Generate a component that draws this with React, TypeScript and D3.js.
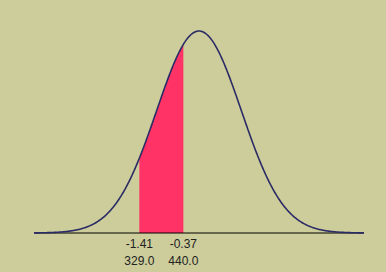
import React from "react";
import * as d3 from "d3";

const zBounds = [-1.41, -0.37];
const rawBounds = ["329.0", "440.0"];
const zDomain = [-3.9, 3.9];
const curveDomain = [-3.9, 3.9];

const W = 386;
const H = 272;

function pdf(z: number) {
  return Math.exp(-0.5 * z * z) / Math.sqrt(2 * Math.PI);
}

export default function App() {
  const x = d3.scaleLinear().domain(zDomain).range([34, 364]);
  const y = d3.scaleLinear().domain([0, pdf(0)]).range([233, 31]);

  const pts = d3.range(curveDomain[0], curveDomain[1] + 0.001, 0.02).map((z) => [z, pdf(z)] as [number, number]);
  const line = d3
    .line<[number, number]>()
    .x((d) => x(d[0]))
    .y((d) => y(d[1]))
    .curve(d3.curveLinear);

  const shadePts = d3
    .range(zBounds[0], zBounds[1] + 0.0001, 0.01)
    .map((z) => [z, pdf(z)] as [number, number]);
  shadePts.push([zBounds[1], pdf(zBounds[1])]);
  const area = d3
    .area<[number, number]>()
    .x((d) => x(d[0]))
    .y0(y(0))
    .y1((d) => y(d[1]));

  return (
    <>
      <style>{`body{margin:0}`}</style>
      <svg width={W} height={H} style={{ display: "block" }}>
        <rect x={0} y={0} width={W} height={H} fill="#CDCD9B" />
        <path d={area(shadePts) || ""} fill="#FF3366" />
        <line x1={x(zDomain[0])} x2={x(zDomain[1])} y1={y(0)} y2={y(0)} stroke="#000" strokeWidth={1} />
        <path d={line(pts) || ""} fill="none" stroke="#2B2B66" strokeWidth={1.6} />
        {zBounds.map((z, i) => (
          <g key={i} fontFamily="Liberation Sans, Arial, sans-serif" fontSize={12} fill="#222" textAnchor="middle">
            <text x={x(z)} y={248}>{z.toFixed(2)}</text>
            <text x={x(z)} y={265}>{rawBounds[i]}</text>
          </g>
        ))}
      </svg>
    </>
  );
}
